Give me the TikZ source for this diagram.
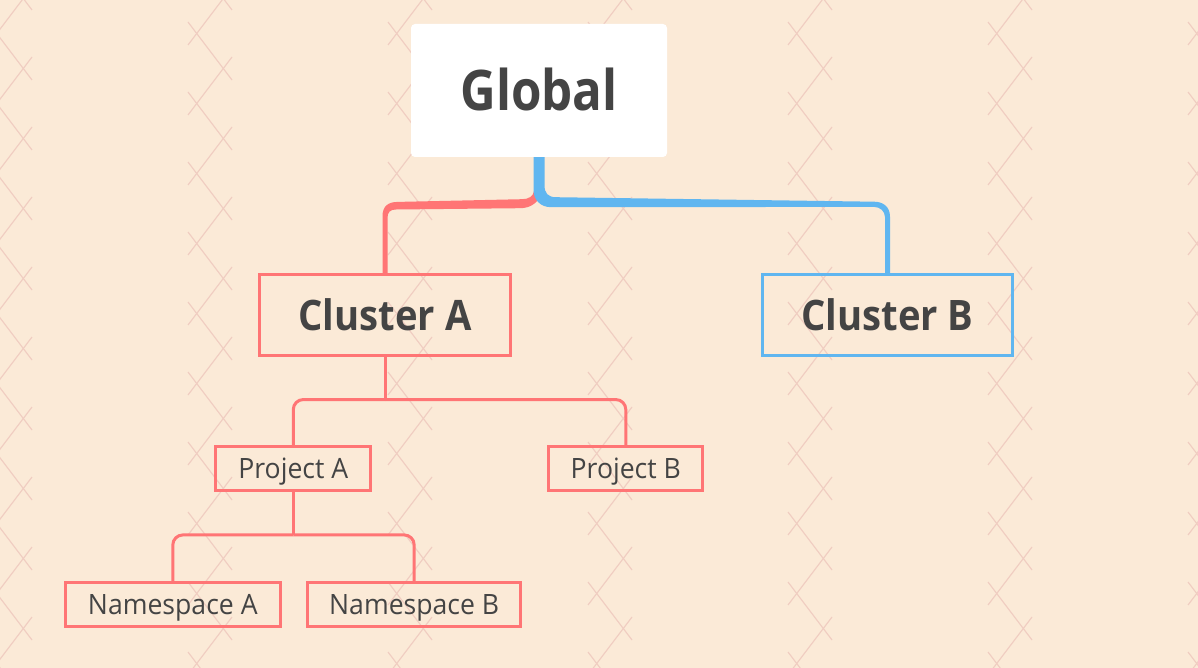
\documentclass[tikz,border=0pt]{standalone}
\usepackage{fontspec}
\setmainfont{Open Sans}
\usetikzlibrary{calc}
\definecolor{bg}{RGB}{251,234,215}
\definecolor{patc}{RGB}{240,205,193}
\definecolor{cred}{RGB}{255,117,117}
\definecolor{cblue}{RGB}{96,182,240}
\definecolor{txt}{RGB}{68,68,68}
\begin{document}
\begin{tikzpicture}[x=1pt,y=-1pt,
  patline/.style={draw=patc,line width=1.15pt},
  rootbox/.style={fill=white,rounded corners=4pt,inner sep=0pt,minimum width=256pt,minimum height=133pt,text=txt,text height=40pt,text depth=0pt,font=\fontsize{56}{60}\selectfont\bfseries},
  clusterbox/.style={draw=#1,line width=3pt,inner sep=0pt,minimum width=250.5pt,minimum height=80.5pt,text=txt,text height=30pt,text depth=0pt,font=\fontsize{42}{46}\selectfont\bfseries},
  leafbox/.style={draw=cred,line width=3pt,inner sep=0pt,minimum height=44.5pt,text=txt,text height=20pt,text depth=0pt,font=\fontsize{28}{32}\selectfont},
  thinred/.style={draw=cred,line width=3pt},
  roundbend/.style={rounded corners=10pt}]
\useasboundingbox (0,0) rectangle (1198,668);
\fill[bg] (0,0) rectangle (1198,668);
\begin{scope}
\clip (0,0) rectangle (1198,668);
\foreach \i in {0,...,6}{
  \foreach \k in {-1,...,10}{
    \draw[patline] (-12+200*\i, 22+70*\k) -- ++(44,58);
    \draw[patline] (32+200*\i, -13+70*\k) -- ++(-44,58);
  }
}
\end{scope}
% nodes
\node[rootbox] (g) at (539,90.5) {\scalebox{0.88}[1]{Global}};
\node[clusterbox=cred] (ca) at (385,315) {\scalebox{0.91}[1]{Cluster A}};
\node[clusterbox=cblue] (cb) at (887.5,315) {\scalebox{0.91}[1]{Cluster B}};
\node[leafbox,minimum width=155pt] (pa) at (293.3,468.7) {\scalebox{0.95}[1]{Project A}};
\node[leafbox,minimum width=154pt] (pb) at (625.8,468.7) {\scalebox{0.95}[1]{Project B}};
\node[leafbox,minimum width=214.7pt] (na) at (172.8,604.7) {\scalebox{0.95}[1]{Namespace A}};
\node[leafbox,minimum width=213.3pt] (nb) at (414.2,604.7) {\scalebox{0.95}[1]{Namespace B}};
% thick tapered connectors Global -> clusters
\fill[cred] ([shift={(-5,34)}]g.south)
  .. controls ([shift={(-6,39)}]g.south) and ([shift={(-10,42)}]g.south) .. ([shift={(-17,42)}]g.south)
  -- ([shift={(-141,44.7)}]g.south)
  .. controls ([shift={(-151,44.7)}]g.south) and ([shift={(-156.5,49)}]g.south) .. ([shift={(-156.5,59)}]g.south)
  -- ([xshift=-2.5pt]ca.north) -- ([xshift=2.5pt]ca.north)
  -- ([shift={(-151.5,61)}]g.south)
  .. controls ([shift={(-151.5,55)}]g.south) and ([shift={(-149,52.3)}]g.south) .. ([shift={(-143,52.3)}]g.south)
  -- ([shift={(-19,51)}]g.south)
  .. controls ([shift={(-9,51)}]g.south) and ([shift={(-2,46)}]g.south) .. ([shift={(1,39)}]g.south)
  -- cycle;
\fill[cblue] ([shift={(-5.5,0)}]g.south)
  -- ([shift={(-5.5,33)}]g.south)
  .. controls ([shift={(-5.5,43)}]g.south) and ([shift={(2,50)}]g.south) .. ([shift={(12,50)}]g.south)
  -- ([shift={(335,49.7)}]g.south)
  .. controls ([shift={(341,49.7)}]g.south) and ([shift={(346,54)}]g.south) .. ([shift={(346,60)}]g.south)
  -- ([xshift=-2.5pt]cb.north) -- ([xshift=2.5pt]cb.north)
  -- ([shift={(351,59.5)}]g.south)
  .. controls ([shift={(351,49)}]g.south) and ([shift={(343.5,44.5)}]g.south) .. ([shift={(335,44.5)}]g.south)
  -- ([shift={(17,40)}]g.south)
  .. controls ([shift={(9,40)}]g.south) and ([shift={(5.5,36)}]g.south) .. ([shift={(5.5,28)}]g.south)
  -- ([shift={(5.5,0)}]g.south)
  -- cycle;
% thin connectors
\coordinate (jA) at ([shift={(0,42.8)}]ca.south);
\coordinate (jP) at ([shift={(0,42.5)}]pa.south);
\draw[thinred] (ca.south) -- (jA);
\draw[thinred,roundbend] (jA) -| (pa.north);
\draw[thinred,roundbend] (jA) -| (pb.north);
\draw[thinred] (pa.south) -- (jP);
\draw[thinred,roundbend] (jP) -| (na.north);
\draw[thinred,roundbend] (jP) -| (nb.north);
\end{tikzpicture}
\end{document}
